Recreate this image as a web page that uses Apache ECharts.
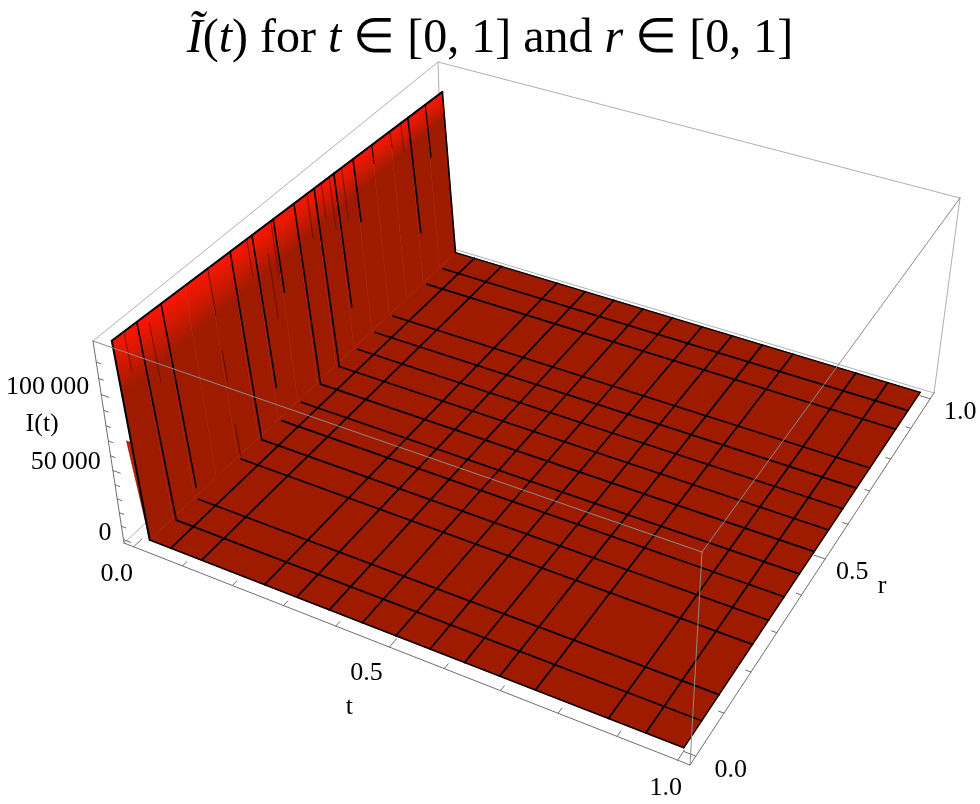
<!DOCTYPE html>
<html><head><meta charset="utf-8">
<style>html,body{margin:0;padding:0;background:#fff}#c{width:980px;height:804px}</style>
<script src="https://cdn.jsdelivr.net/npm/echarts@6/dist/echarts.min.js"></script>
</head><body><div id="c"></div>
<script>
// ---- data ----
const meshT = [0.0625,0.125,0.25,0.3125,0.375,0.4375,0.5,0.5625,0.625,0.6875,0.75,0.875,0.9375];
const meshR = [0.0625,0.125,0.25,0.3125,0.375,0.4375,0.5,0.5625,0.625,0.6875,0.75,0.875,0.9375];
const ridgeR = [0,0.0625,0.125,0.1875,0.25,0.3125,0.375,0.4375,0.5,0.5625,0.625,0.6875,0.75,0.8125,0.875,0.9375,1];
const ridgeI = [131000,130200,129300,128500,127700,126800,126000,125100,124400,123500,122700,121800,121000,120100,119300,118400,117500];
const floorI = 0;
const footT = 0.019;       // where the steep wall reaches the floor
const meshStartT = 0.027;  // where the r mesh lines begin on the floor
// r, ridge value, start and end of the drawn stretch along the wall, stroke weight
const wallLines = [
 [0.03,130600,0,0.2,0.6],[0.0625,130200,0,1,1.6],[0.09,129800,0.05,0.35,0.6],[0.125,129300,0,0.94,1.6],
 [0.25,127700,0,0.25,0.8],[0.25,127700,0.43,0.59,0.8],[0.25,127700,0.82,0.98,0.8],
 [0.3125,126800,0,1,1.6],[0.36,126200,0,0.2,0.6],[0.375,126000,0,0.82,1.6],[0.41,125600,0.15,0.5,0.6],
 [0.43,125200,0,0.3,0.6],[0.4375,125100,0,0.40,1.6],[0.5,124400,0,1,1.6],[0.54,123800,0,0.25,0.6],
 [0.5625,123500,0,1,1.6],[0.585,123200,0,0.2,0.6],[0.61,122900,0,0.3,0.6],[0.625,122700,0,0.76,1.6],
 [0.65,122400,0,0.3,0.6],[0.6875,121800,0,0.36,1.6],[0.75,121000,0,0.11,1],[0.8125,120100,0,0.1,0.7],
 [0.85,119600,0,0.17,0.6],[0.875,119300,0,0.69,1.6],[0.9375,118400,0,0.32,1.2]
];
const sliver = [[0,0,68000],[0.0066,0,68000],[0.019,0,0]];
const tTicks = [0,0.1,0.2,0.3,0.4,0.5,0.6,0.7,0.8,0.9,1];
const rTicks = [0,0.1,0.2,0.3,0.4,0.5,0.6,0.7,0.8,0.9,1];
const zTicks = [0,10000,20000,30000,40000,50000,60000,70000,80000,90000,100000,110000,120000];
const tMajor = [0,0.5,1], rMajor = [0,0.5,1], zMajor = [0,50000,100000];
const tLabels = [['0.0',0,-17,27],['0.5',0.5,-23,26],['1.0',1,-12,28]];
const rLabels = [['0.0',0,35,14],['0.5',0.5,27,13],['1.0',1,30,13]];
const zLabels = [['100\u2009000',100000,-12,-7],['50\u2009000',50000,-12,-8],['0',0,-12,-6]];
const titleRich = '{i|\u0128}{n|(}{i|t}{n|) for }{i|t}{n| \u2208 [0, 1] and }{i|r}{n| \u2208 [0, 1]}';

// ---- view of the plot box (corners of the bounding box in the picture) ----
const floorCorners = [[124,543],[690,765],[934,393],[444,246]];
const topCorners = [[93,341],[702,552],[960,198],[438,62]];
const pad = 0.02, zLo = -2600, zHi = 132600, zPersp = 0.88;

function quad(c){
  const [[x0,y0],[x1,y1],[x2,y2],[x3,y3]] = c;
  const dx1=x1-x2,dx2=x3-x2,sx=x0-x1+x2-x3,dy1=y1-y2,dy2=y3-y2,sy=y0-y1+y2-y3;
  const d=dx1*dy2-dx2*dy1, g=(sx*dy2-dx2*sy)/d, h=(dx1*sy-sx*dy1)/d;
  const a=x1-x0+g*x1,b=x3-x0+h*x3,e=y1-y0+g*y1,f=y3-y0+h*y3;
  return (u,v)=>{const w=g*u+h*v+1;return [(a*u+b*v+x0)/w,(e*u+f*v+y0)/w];};
}
const H0=quad(floorCorners),H1=quad(topCorners);
function project(t,r,z){
  const u=(t+pad)/(1+2*pad),v=(r+pad)/(1+2*pad),w=(z-zLo)/(zHi-zLo);
  const s=zPersp*w/(1+(zPersp-1)*w);
  const F=H0(u,v),T=H1(u,v);
  return [F[0]+(T[0]-F[0])*s,F[1]+(T[1]-F[1])*s];
}
const BOX={t0:-pad,t1:1+pad,r0:-pad,r1:1+pad};

const FLOOR='#9E1B00', BLACK='#000', GBACK='#B0B0B0', GFRONT='#8C8C8C', GAXIS='#6E6E6E';
const SERIF='"Liberation Serif","Times New Roman",serif';

function layer(name,items,draw,z){
  return {type:'custom',name,coordinateSystem:'cartesian2d',clip:false,silent:true,z,animation:false,
    data:items.map((_,i)=>[i,i]),encode:{x:0,y:1},
    renderItem:(p,api)=>{
      const P=(t,r,zz)=>api.coord(project(t,r,zz));
      return draw(items[p.dataIndex],P,api);
    }};
}
const seg=(a,b,stroke,lw)=>({type:'line',shape:{x1:a[0],y1:a[1],x2:b[0],y2:b[1]},style:{stroke,lineWidth:lw,lineCap:'round'}});
const bz=zLo,tz=zHi;

const backEdges=[
 [[BOX.t0,BOX.r1,bz],[BOX.t1,BOX.r1,bz]],[[BOX.t0,BOX.r0,bz],[BOX.t0,BOX.r1,bz]],
 [[BOX.t0,BOX.r1,bz],[BOX.t0,BOX.r1,tz]],[[BOX.t0,BOX.r0,tz],[BOX.t0,BOX.r1,tz]],
 [[BOX.t0,BOX.r1,tz],[BOX.t1,BOX.r1,tz]],[[BOX.t1,BOX.r1,bz],[BOX.t1,BOX.r1,tz]]
];
const frontEdges=[
 [[BOX.t0,BOX.r0,tz],[BOX.t1,BOX.r0,tz]],[[BOX.t1,BOX.r0,tz],[BOX.t1,BOX.r1,tz]],[[BOX.t1,BOX.r0,bz],[BOX.t1,BOX.r0,tz]]
];
const axisEdges=[
 [[BOX.t0,BOX.r0,bz],[BOX.t0,BOX.r0,tz]],[[BOX.t0,BOX.r0,bz],[BOX.t1,BOX.r0,bz]],[[BOX.t1,BOX.r0,bz],[BOX.t1,BOX.r1,bz]]
];
const edgeDraw=c=>(e,P)=>seg(P(...e[0]),P(...e[1]),c,1);

// wall strips between neighbouring ridge samples
const strips=ridgeR.slice(0,-1).map((r,i)=>({r0:r,r1:ridgeR[i+1],z0:ridgeI[i],z1:ridgeI[i+1]}));
// floor cells between mesh positions
const tEdges=[footT,...meshT,1], rEdges=[0,...meshR,1], cells=[];
tEdges.slice(0,-1).forEach((t,i)=>rEdges.slice(0,-1).forEach((r,j)=>cells.push([t,tEdges[i+1],r,rEdges[j+1]])));

const floorLines=[
 ...meshT.map(t=>[[t,0,floorI],[t,1,floorI]]),
 ...meshR.map(r=>[[meshStartT,r,floorI],[1,r,floorI]])
];
const boundary=[
 [[0,0,ridgeI[0]],[0,1,ridgeI[ridgeI.length-1]],2],
 [[0,0,ridgeI[0]],[footT,0,floorI],2],
 [[0,1,ridgeI[ridgeI.length-1]],[footT,1,floorI],1.6],
 [[footT,0,floorI],[1,0,floorI],1.4],
 [[1,0,floorI],[1,1,floorI],1.4],
 [[footT,1,floorI],[1,1,floorI],1.4]
];
const ticks=[
 ...tTicks.map(t=>({a:[t,BOX.r0,bz],b:[t,BOX.r0+(tMajor.includes(t)?0.022:0.012),bz]})),
 ...rTicks.map(r=>({a:[BOX.t1,r,bz],b:[BOX.t1-(rMajor.includes(r)?0.02:0.009),r,bz]})),
 ...zTicks.map(z=>({a:[BOX.t0,BOX.r0,z],b:[BOX.t0+(zMajor.includes(z)?0.015:0.009),BOX.r0,z]}))
];
const txt=(text,x,y,align)=>({type:'text',style:{text,x,y,align:align||'center',verticalAlign:'middle',font:'26px '+SERIF,fill:'#000'}});
const labels=[
 ...tLabels.map(([s,t,dx,dy])=>({s,at:[t,BOX.r0,bz],dx,dy})),
 ...rLabels.map(([s,r,dx,dy])=>({s,at:[BOX.t1,r,bz],dx,dy})),
 ...zLabels.map(([s,z,dx,dy])=>({s,at:[BOX.t0,BOX.r0,z],dx,dy,align:'right'})),
 {s:'t',at:[0.5,BOX.r0,bz],dx:-40,dy:60},
 {s:'r',at:[BOX.t1,0.5,bz],dx:57,dy:27},
 {s:'I(t)',at:[BOX.t0,BOX.r0,75000],dx:-65,dy:-9}
];

const chart=echarts.init(document.getElementById('c'),null,{renderer:'canvas'});
const ridgeA=project(0,0,ridgeI[0]), ridgeB=project(0,1,ridgeI[ridgeI.length-1]);
const ridgeLen=Math.hypot(ridgeB[0]-ridgeA[0],ridgeB[1]-ridgeA[1]);
const normal=[-(ridgeB[1]-ridgeA[1])/ridgeLen,(ridgeB[0]-ridgeA[0])/ridgeLen]; // across the ridge
chart.setOption({
 animation:false,
 backgroundColor:'#fff',
 title:{left:'center',top:10,text:titleRich,textStyle:{fontWeight:'normal',rich:{
   i:{fontFamily:SERIF,fontStyle:'italic',fontWeight:'normal',fontSize:48,color:'#000'},
   n:{fontFamily:SERIF,fontWeight:'normal',fontSize:48,color:'#000'}}}},
 grid:{left:0,right:0,top:0,bottom:0},
 xAxis:{type:'value',min:0,max:980,show:false},
 yAxis:{type:'value',min:0,max:804,inverse:true,show:false},
 series:[
  layer('box back',backEdges,edgeDraw(GBACK),1),
  layer('axis edges',axisEdges,edgeDraw(GAXIS),2),
  layer('sliver',[sliver],(s,P)=>({type:'polygon',shape:{points:s.map(q=>P(...q))},style:{fill:'#D21A00',stroke:'#7a1400',lineWidth:0.6}}),3),
  layer('wall',strips,(s,P)=>{
    const a=P(0,s.r0,s.z0),b=P(0,s.r1,s.z1),c=P(footT,s.r1,floorI),d=P(footT,s.r0,floorI);
    const rm=(s.r0+s.r1)/2, depth=50-28*rm;   // width of the bright band below the ridge
    const top=[(a[0]+b[0])/2,(a[1]+b[1])/2];
    const end=[top[0]+normal[0]*depth,top[1]+normal[1]*depth];
    const g=new echarts.graphic.LinearGradient(top[0],top[1],end[0],end[1],
      [{offset:0,color:'#FF1400'},{offset:0.4,color:'#D81900'},{offset:1,color:FLOOR}],true);
    return {type:'polygon',shape:{points:[a,b,c,d]},style:{fill:g,stroke:g,lineWidth:0.6}};
  },4),
  layer('floor',cells,(c,P)=>({type:'polygon',shape:{points:[P(c[0],c[2],floorI),P(c[1],c[2],floorI),P(c[1],c[3],floorI),P(c[0],c[3],floorI)]},style:{fill:FLOOR,stroke:FLOOR,lineWidth:0.6}}),5),
  layer('floor mesh',floorLines,(e,P)=>seg(P(...e[0]),P(...e[1]),BLACK,1.7),6),
  layer('wall mesh',wallLines,(l,P)=>{
    const [r,top,f0,f1,lw]=l;
    const A=P(0,r,top),B=P(meshStartT,r,floorI);
    const at=f=>[A[0]+(B[0]-A[0])*f,A[1]+(B[1]-A[1])*f];
    return seg(at(f0),at(f1),lw<1?'#4a0a00':BLACK,lw);
  },7),
  layer('boundary',boundary,(e,P)=>seg(P(...e[0]),P(...e[1]),BLACK,e[2]),8),
  layer('box front',frontEdges,edgeDraw(GFRONT),9),
  layer('ticks',ticks,(k,P)=>seg(P(...k.a),P(...k.b),GAXIS,1),10),
  layer('labels',labels,(l,P)=>{const q=P(...l.at);return txt(l.s,q[0]+l.dx,q[1]+l.dy,l.align);},11)
 ]
});
</script></body></html>
